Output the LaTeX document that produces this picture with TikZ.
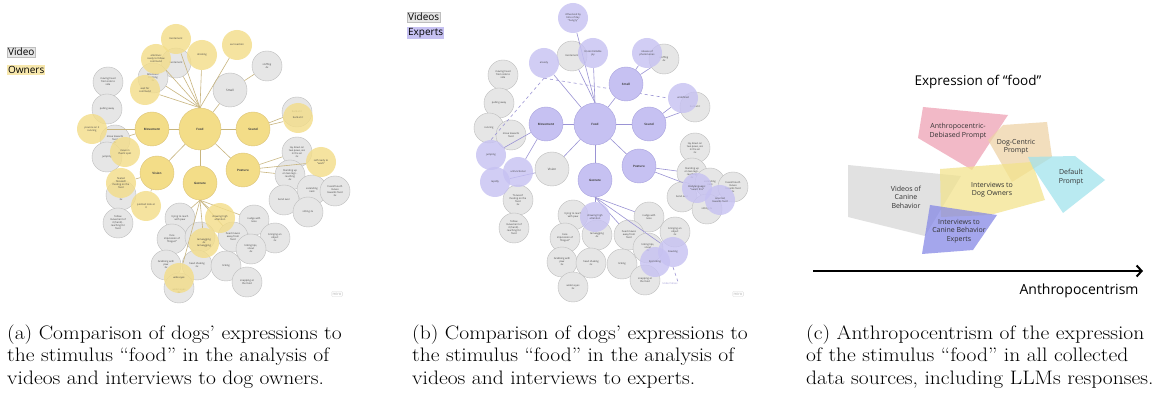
\documentclass[tikz,border=0pt]{standalone}
\usepackage{fontspec}
\newfontfamily\sans{Open Sans}
\usetikzlibrary{arrows.meta}
\definecolor{gF}{HTML}{E6E6E6}
\definecolor{gB}{HTML}{BEBEBE}
\definecolor{yF}{HTML}{F3DD88}
\definecolor{yB}{HTML}{DCC47A}
\definecolor{yL}{HTML}{C8B57E}
\definecolor{pF}{HTML}{C6C1F2}
\definecolor{pB}{HTML}{A8A2DE}
\definecolor{pL}{HTML}{9A93D4}
\definecolor{cPink}{HTML}{EE9FB2}
\definecolor{cTan}{HTML}{EDD2A4}
\definecolor{cCyan}{HTML}{9FE2EC}
\definecolor{cYel}{HTML}{F3E38A}
\definecolor{cGray}{HTML}{D6D6D6}
\definecolor{cPur}{HTML}{8285E6}
\pgfdeclarelayer{bg}\pgfdeclarelayer{mid}
\pgfsetlayers{bg,mid,main}
\newcommand\captext[1]{\scalebox{1.105}[1]{\fontsize{19.5}{22.8}\selectfont\begin{tabular}{@{}l@{}}#1\end{tabular}}}
\begin{document}
\begin{tikzpicture}[x=1pt,y=-1pt,
  ct/.style={circle,inner sep=0pt,minimum size=30pt,align=center,text=black!75,
    font=\sans\fontsize{2.5}{3}\selectfont},
  gc/.style={ct,draw=gB,line width=0.4pt,fill=gF},
  yc/.style={ct,fill=yF,fill opacity=0.8,text opacity=1},
  pc/.style={ct,fill=pF,fill opacity=0.8,text opacity=1},
  hub/.style={minimum size=34pt,font=\sans\bfseries\fontsize{3}{3.5}\selectfont},
  core/.style={minimum size=42pt,font=\sans\bfseries\fontsize{3}{3.5}\selectfont},
  ybig/.style={ct,fill=yF,draw=yB,line width=0.4pt},
  pbig/.style={ct,fill=pF,draw=pB,line width=0.4pt},
  yl/.style={yL,line width=0.6pt},
  pl/.style={pL,line width=0.6pt},
  leg/.style={draw=gB,line width=0.3pt,inner sep=1pt,font=\sans\fontsize{10}{11}\selectfont,anchor=west},
  zone/.style={fill opacity=0.72,draw=none},
  ztxt/.style={font=\sans\fontsize{7}{8.5}\selectfont,align=center,text=black!80},
  captxt/.style={anchor=north west,inner sep=0pt}
]
\useasboundingbox (0,0) rectangle (1160,398);
\begin{pgfonlayer}{bg}
\fill[white] (0,0) rectangle (1160,398);
\end{pgfonlayer}

% ---------------- (a) ----------------
\node[leg,fill=gF] (aLegV) at (7,52) {Video};
\node[leg,fill=yF!70,draw=none] (aLegO) at (7,70) {Owners};

\begin{pgfonlayer}{bg}
\node[gc,hub] (aSmell) at (230,90) {\mdseries Smell};
\node[gc] (aSniff) at (267,66) {sniffing\\4x};
\node[gc] (aExcG) at (176,63) {Excitement};
\node[gc] (aAttn) at (153,78) {Attention/\\Pointing\\3x};
\node[gc] (aMoving) at (108,82) {moving head\\from side to\\side};
\node[gc] (aPull) at (107,109) {pulling away};
\node[gc] (aTow) at (115,140) {move towards\\food\\3x};
\node[gc] (aJump) at (107,157) {jumping};
\node[gc] (aFixG) at (121,195) {\\[8pt]3x};
\node[gc] (aFollow) at (118,223) {follow\\movement of\\it (hand) -\\reaching for\\food};
\node[gc] (aBarkG) at (297,112) {bark at it};
\node[gc] (aLay) at (297,152) {lay down on\\two paws, ass\\in the air\\2x};
\node[gc] (aStand) at (290,175) {Standing up\\on two legs -\\reaching\\4x};
\node[gc] (aExt) at (312,190) {extending\\neck};
\node[gc] (aHead) at (335,191) {head/mouth\\moves\\towards food\\3x};
\node[gc] (aBend) at (284,200) {bend over};
\node[gc] (aSit) at (308,212) {sitting 2x};
\node[gc] (aTry) at (180,218) {trying to reach\\with paw};
\node[gc] (aNudge) at (254,220) {nudge with\\nose};
\node[gc] (aFace) at (172,239) {face\\impression of\\“disgust”};
\node[gc] (aTailG) at (200,237) {};
\node[gc] (aAway) at (233,237) {head moves\\away from\\food};
\node[gc] (aBring) at (275,238) {bringing an\\object\\2x};
\node[gc] (aLips) at (251,249) {licking lips,\\snout\\4x};
\node[gc] (aGrab) at (166,265) {Grabbing with\\paw\\3x};
\node[gc] (aShake) at (197,265) {head shaking\\2x};
\node[gc] (aLick) at (226,266) {licking};
\node[gc] (aSnap) at (247,282) {snapping at\\the food};
\node[gc] (aWideG) at (179,288) {\\[5pt]widen eyes\\3x};
\end{pgfonlayer}

\node[ybig,core] (aFood) at (200,129) {Food};
\node[ybig,hub] (aMov) at (152,129) {Movement};
\node[ybig,hub] (aSound) at (253,129) {Sound};
\node[ybig,hub] (aVis) at (157,173) {Vision};
\node[ybig,hub] (aGest) at (200,183) {Gesture};
\node[ybig,hub] (aPost) at (243,170) {Posture};
\node[yc] (aExcY) at (176,39) {Excitement};
\node[yc] (aDrool) at (202,55) {drooling};
\node[yc] (aEar) at (237,45) {ear reaction};
\node[yc] (aAtt) at (156,59) {attentive:\\ready to follow\\command};
\node[yc] (aWait) at (145,90) {wait for\\command};
\node[yc] (aPounce) at (92,129) {pounce on it\\running};
\node[yc] (aFluent) at (125,152) {move in\\fluent spot};
\node[yc] (aFixY) at (121,183) {fixated\\focused/\\fixating on the\\food};
\node[yc] (aPoint) at (146,206) {pointed look at\\it};
\node[yc] (aBarkY) at (298,118) {bark at it};
\node[yc] (aSelf) at (321,162) {self ready to\\“work”};
\node[yc] (aShow) at (220,218) {showing high\\attention};
\node[yc] (aTailY) at (204,243) {tail wagging\\4x\\tail wagging};
\node[yc] (aWideY) at (179,278) {wide eyes};
\node[draw=black!15,line width=0.3pt,rounded corners=1pt,inner sep=1pt,text=black!30,
  font=\sans\fontsize{4}{4}\selectfont] (aMiro) at (337,294) {miro};

\begin{pgfonlayer}{mid}
\foreach \t in {aMov,aSound,aVis,aGest,aPost,aSmell} \draw[yl] (aFood) -- (\t);
\foreach \t in {aExcY,aDrool,aEar,aAtt,aExcG,aWait,aAttn} \draw[yl] (aFood.north) -- (\t);
\draw[yl] (aSmell) -- (aSniff);
\draw[yl] (aSound) -- (aBarkY); \draw[yl] (aSound) -- (aBarkG);
\draw[yl] (aPost) -- (aSelf); \draw[yl] (aPost) -- (aStand); \draw[yl] (aPost) -- (aLay);
\draw[yl] (aMov) -- (aPounce); \draw[yl] (aMov) -- (aTow);
\draw[yl] (aVis) -- (aFixY); \draw[yl] (aVis) -- (aPoint);
\foreach \t in {aTry,aShow,aTailY,aWideY,aNudge,aAway} \draw[yl] (aGest.south) -- (\t);
\end{pgfonlayer}

% ---------------- (b) ----------------
\node[leg,fill=gF] (bLegV) at (407,17) {Videos};
\node[leg,fill=pF,draw=none] (bLegE) at (407,33) {Experts};

\begin{pgfonlayer}{bg}
\node[gc] (bExcG) at (572,56) {Excitement};
\node[gc] (bSniff) at (664,59) {sniffing\\4x};
\node[gc] (bBark) at (695,107) {bark at it};
\node[gc,hub] (bVis) at (552,169) {\mdseries Vision};
\node[gc] (bMoving) at (503,75) {moving head\\from side to\\side};
\node[gc] (bPull) at (499,103) {pulling away};
\node[gc] (bRun) at (489,128) {running};
\node[gc] (bTow) at (511,135) {move towards\\food};
\node[gc] (bFoc) at (518,200) {‘focused’\\fixating on the\\food\\3x};
\node[gc] (bFollow) at (514,228) {follow\\movement of\\it (hand) -\\reaching for\\food};
\node[gc] (bLay) at (695,148) {lay down on\\two paws, ass\\in the air\\2x};
\node[gc] (bStand) at (692,173) {Standing up\\on two legs -\\reaching\\4x};
\node[gc] (bExt) at (710,183) {extending\\neck};
\node[gc] (bHead) at (733,187) {head/mouth\\moves\\towards food\\3x};
\node[gc] (bBend) at (682,197) {bend over};
\node[gc] (bSit) at (707,209) {sitting 2x};
\node[gc] (bTry) at (573,215) {trying to reach\\with paw};
\node[gc] (bNudge) at (649,217) {nudge with\\nose};
\node[gc] (bFace) at (565,238) {Face\\impression of\\“disgust”};
\node[gc] (bTail) at (597,235) {tail wagging\\4x};
\node[gc] (bAway) at (629,235) {head moves\\away from\\food};
\node[gc] (bBring) at (675,232) {bringing an\\object\\2x};
\node[gc] (bLips) at (648,248) {licking lips,\\snout\\4x};
\node[gc] (bGrab) at (562,262) {Grabbing with\\paw\\3x};
\node[gc] (bShake) at (591,263) {head shaking\\2x};
\node[gc] (bLick) at (622,264) {licking};
\node[gc] (bSnap) at (645,280) {snapping at\\the food};
\node[gc] (bWiden) at (573,287) {widen eyes\\3x};
\end{pgfonlayer}

\node[pbig,core] (bFood) at (595,124) {Food};
\node[pbig,hub] (bMov) at (546,124) {Movement};
\node[pbig,hub] (bSound) at (649,124) {Sound};
\node[pbig,hub] (bSmell) at (626,84) {Smell};
\node[pbig,hub] (bGest) at (595,180) {Gesture};
\node[pbig,hub] (bPost) at (639,166) {Posture};
\node[pc] (bInfl) at (573,18) {influenced by\\time of day\\“hungry”};
\node[pc] (bJoy) at (593,53) {Uncontrollable\\joy};
\node[pc] (bAnx) at (544,63) {anxiety};
\node[pc] (bRel) at (647,53) {release of\\pheromones};
\node[pc] (bUnd) at (683,98) {undefined};
\node[pc] (bJump) at (491,155) {jumping};
\node[pc] (bUnf) at (518,172) {unfunctional};
\node[pc] (bRap) at (495,182) {rapidly};
\node[pc] (bBody) at (697,188) {Bodylanguage:\\“I want this”};
\node[pc] (bOri) at (720,200) {oriented\\towards food};
\node[pc] (bShow) at (595,217) {showing high\\attention};
\node[pc] (bFawn) at (673,252) {Fawning};
\node[pc] (bLipL) at (655,262) {lips licking};
\node[text=pL,inner sep=0.5pt,font=\sans\fontsize{2.5}{3}\selectfont] (bStress) at (670,284) {Under Stress};
\node[draw=black!15,line width=0.3pt,rounded corners=1pt,inner sep=1pt,text=black!30,
  font=\sans\fontsize{4}{4}\selectfont] (bMiro) at (738,294) {miro};

\begin{pgfonlayer}{mid}
\foreach \t in {bMov,bSound,bVis,bGest,bPost,bSmell,bAnx} \draw[pl] (bFood) -- (\t);
\foreach \t in {bInfl,bJoy,bExcG} \draw[pl] (bFood.north) -- (\t);
\draw[pl] (bSmell) -- (bRel); \draw[pl] (bSmell) -- (bSniff);
\draw[pl] (bSound) -- (bUnd); \draw[pl] (bSound) -- (bBark);
\draw[pl] (bMov) -- (bJump); \draw[pl] (bMov) -- (bUnf);
\draw[pl] (bVis) -- (bRap);
\draw[pl] (bPost) -- (bStand); \draw[pl] (bPost) -- (bBody);
\foreach \t in {bShow,bNudge,bFawn,bAway} \draw[pl] (bGest.south) -- (\t);
\draw[pl,dashed] (bAnx.south) -- (bUnd.west);
\draw[pl,dashed] (bAnx.south) -- (bJump.north);
\draw[pl,dashed] (bFawn.south) -- (bStress.north east);
\end{pgfonlayer}

% ---------------- (c) ----------------
\node[font=\sans\fontsize{13.5}{15}\selectfont] (cTitle) at (978,82) {Expression of “food”};
\fill[zone,cGray] (848,165) -- (961,176) -- (925,236) -- (848,217) -- cycle;
\fill[zone,cPink] (923,107) -- (1008,115) -- (972,170) -- (918,138) -- cycle;
\fill[zone,cTan] (1003,125) -- (1047,122) -- (1052,157) -- (1012,182) -- (988,140) -- cycle;
\fill[zone,cYel] (940,169) -- (1032,162) -- (1045,200) -- (990,215) -- (941,217) -- cycle;
\fill[zone,cCyan] (1028,157) -- (1075,156) -- (1105,180) -- (1063,213) -- (1033,168) -- cycle;
\fill[zone,cPur] (930,205) -- (997,215) -- (973,250) -- (922,254) -- cycle;
\node[ztxt] (cAD) at (958,131) {Anthropocentric-\\Debiased Prompt};
\node[ztxt] (cDC) at (1016,147) {Dog-Centric\\Prompt};
\node[ztxt] (cDef) at (1071,177) {Default\\Prompt};
\node[ztxt] (cOwn) at (992,190) {Interviews to\\Dog Owners};
\node[ztxt] (cVid) at (906,197) {Videos of\\Canine\\Behavior};
\node[ztxt] (cExp) at (959,231) {Interviews to\\Canine Behavior\\Experts};
\coordinate (cA0) at (813,271);
\coordinate (cA1) at (1143,271);
\draw[line width=2.6pt,-{Straight Barb[length=5pt,width=11pt,line width=2pt]}] (cA0) -- (cA1);
\node[anchor=east,font=\sans\fontsize{14}{16}\selectfont] (cAnth) at (1142,291) {Anthropocentrism};

% ---------------- captions ----------------
\node[captxt] (capA) at (7,323) {\captext{(a) Comparison of dogs’ expressions to\\the stimulus “food” in the analysis of\\videos and interviews to dog owners.}};
\node[captxt] (capB) at (412,323) {\captext{(b) Comparison of dogs’ expressions to\\the stimulus “food” in the analysis of\\videos and interviews to experts.}};
\node[captxt] (capC) at (806,323) {\captext{(c) Anthropocentrism of the expression\\of the stimulus “food” in all collected\\data sources, including LLMs responses.}};
\end{tikzpicture}
\end{document}
